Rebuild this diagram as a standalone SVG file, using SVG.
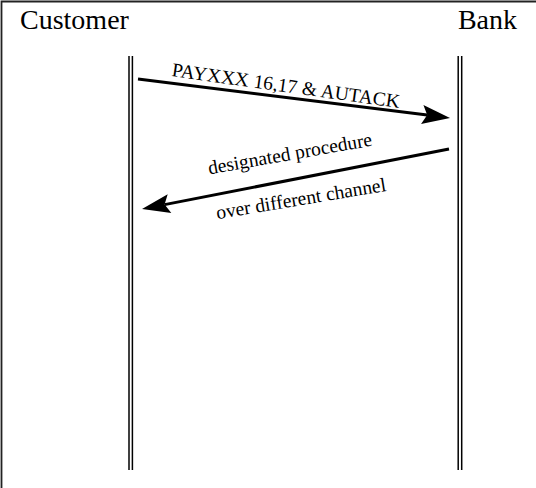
<svg xmlns="http://www.w3.org/2000/svg" width="536" height="488" viewBox="0 0 536 488">
<style>
.lbl{font-family:"Liberation Serif","Times New Roman",serif;fill:#000}
.head{font-size:28px}
.msg{font-size:19.5px}
.life{stroke:#000;stroke-width:1.5;fill:none}
.arrow{stroke:#000;stroke-width:3;fill:none}
</style>
<defs>
<marker id="ah" markerUnits="userSpaceOnUse" markerWidth="30" markerHeight="20" refX="5" refY="9.5" orient="auto" overflow="visible">
<path d="M0,0 L28,9.5 L0,19 L5,9.5 z" fill="#000"/>
</marker>
</defs>
<rect width="536" height="488" fill="#fff"/>
<path d="M1.5,492 L1.5,1.5 L540,1.5" fill="none" stroke="#222" stroke-width="1.8"/>
<g id="customer">
<text class="lbl head" x="20" y="29">Customer</text>
<line class="life" x1="129" y1="56" x2="129" y2="470"/>
<line class="life" x1="132.4" y1="56" x2="132.4" y2="470"/>
</g>
<g id="bank">
<text class="lbl head" x="517" y="29" text-anchor="end">Bank</text>
<line class="life" x1="458.2" y1="56" x2="458.2" y2="470"/>
<line class="life" x1="461.7" y1="56" x2="461.7" y2="470"/>
</g>
<g id="connectors">
<line class="arrow" x1="138" y1="79" x2="427.2" y2="115.1" marker-end="url(#ah)"/>
<line class="arrow" x1="449" y1="149" x2="164.6" y2="204.6" marker-end="url(#ah)"/>
<text class="lbl msg" x="285" y="92" text-anchor="middle" transform="rotate(8 285 92)">PAYXXX 16,17 &amp; AUTACK</text>
<text class="lbl msg" x="291" y="160" text-anchor="middle" transform="rotate(-10 291 160)">designated procedure</text>
<text class="lbl msg" x="302" y="205" text-anchor="middle" transform="rotate(-9.5 302 205)">over different channel</text>
</g>
</svg>
